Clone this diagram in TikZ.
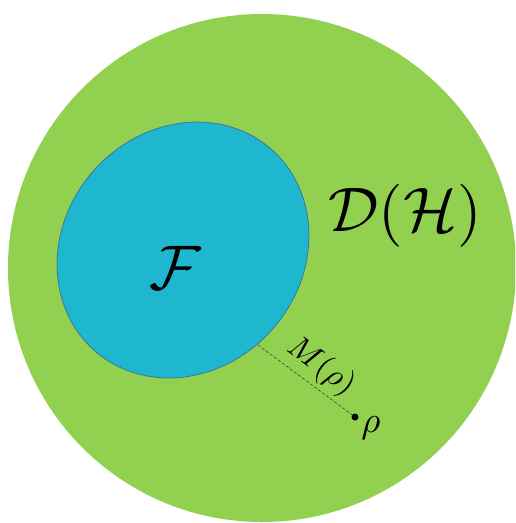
\documentclass[tikz,border=0pt]{standalone}
\definecolor{bigGreen}{HTML}{92D050}
\definecolor{setBlue}{HTML}{1FB6CF}
\definecolor{setEdge}{HTML}{3A6FA0}
\tikzset{
  bigfont/.style={scale=6.3, inner sep=0pt},
  smallfont/.style={scale=3.2, inner sep=0pt},
  distline/.style={densely dashed, line width=0.6pt, black!75},
}
\begin{document}
\begin{tikzpicture}[x=1pt,y=-1pt]
\useasboundingbox (0,0) rectangle (515,523);
\clip (0,0) rectangle (515,523);
% D(H)
\fill[bigGreen] (262,268) circle [radius=254];
% F
\draw[fill=setBlue, draw=setEdge, line width=0.7pt, rotate around={49:(183,250)}]
  (183,250) ellipse [x radius=134, y radius=119.5];
\node[bigfont] (F) at (175,268) {$\mathcal{F}$};
\node[bigfont] (D) at (405,216) {$\mathcal{D}(\mathcal{H})$};
% rho and distance
\coordinate (m) at (258,345);
\fill (355,417) circle [radius=3.5];
\coordinate (rho) at (355,417);
\draw[distline] (m) -- (rho);
\node[smallfont, scale=1.15] (rl) at (371,428) {$\rho$};
\node[smallfont, rotate=-36.6] (ml) at (321,367) {$M(\rho)$};
\end{tikzpicture}
\end{document}
